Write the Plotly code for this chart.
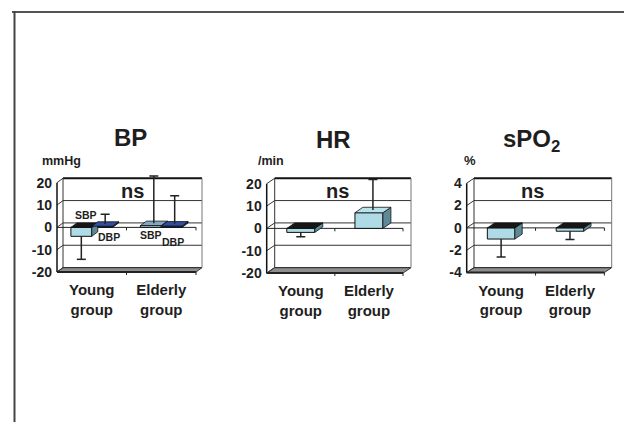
import plotly.graph_objects as go

W, H = 624, 425

# ---------------- data ----------------
categories = ["Young<br>group", "Elderly<br>group"]

bp_sbp = [-4.0, 0.8]
bp_sbp_err = [10.3, 21.2]
bp_dbp = [0.5, 0.6]
bp_dbp_err = [4.4, 12.6]

hr_vals = [-1.8, 7.0]
hr_err = [2.0, 13.7]

spo2_vals = [-1.0, -0.3]
spo2_err = [1.6, 0.75]

bp_ticks = [-20, -10, 0, 10, 20]
hr_ticks = [-20, -10, 0, 10, 20]
spo2_ticks = [-4, -2, 0, 2, 4]

# ---------------- styling / geometry ----------------
FONT = "Liberation Sans, Arial, sans-serif"
TXT = "#1e1e1e"
NEG_TOP = "#161616"
STY_SBP = dict(front="#aedbe6", top="#82a9c3", side="#5e8a97")
STY_HR = dict(front="#aedbe6", top="#b8e3ec", side="#5e8a97")
STY_DBP = dict(front="#2d4e9e", top="#2f4fa0", side="#1d3570")

panels = [
    dict(FL=57, FR=196, FT=184, FB=274, dx=6, dy=4.5, ymin=-20, ymax=20, ticks=bp_ticks),
    dict(FL=266.7, FR=403, FT=185, FB=275, dx=8, dy=5.5, ymin=-20, ymax=20, ticks=hr_ticks),
    dict(FL=466.7, FR=604.4, FT=184.5, FB=274.5, dx=7.3, dy=5, ymin=-4, ymax=4, ticks=spo2_ticks),
]

fig = go.Figure()
shapes = []
xcat = list(range(len(categories)))

def px2paper(x, y):
    return x / W, 1 - y / H

for i, p in enumerate(panels):
    suf = "" if i == 0 else str(i + 1)
    xa, ya = "x" + suf, "y" + suf
    kx = (p["FR"] - p["FL"]) / 2.0
    ky = (p["FB"] - p["FT"]) / (p["ymax"] - p["ymin"])
    p["kx"], p["ky"] = kx, ky
    padL, padR, padT, padB = 3, 3, 9, 5
    p["DX"] = p["dx"] / kx
    p["DY"] = p["dy"] / ky
    DX, DY = p["DX"], p["DY"]
    ymin, ymax = p["ymin"], p["ymax"]
    xr = [-0.5 - padL / kx, 1.5 + (p["dx"] + padR) / kx]
    yr = [ymin - padB / ky, ymax + (p["dy"] + padT) / ky]
    xdom = [(p["FL"] - padL) / W, (p["FR"] + p["dx"] + padR) / W]
    ydom = [1 - (p["FB"] + padB) / H, 1 - (p["FT"] - p["dy"] - padT) / H]
    fig.update_layout({
        "xaxis" + suf: dict(domain=xdom, range=xr, anchor=ya, tickvals=xcat, ticktext=categories,
                            showgrid=False, zeroline=False, showline=False, ticks="",
                            tickfont=dict(family=FONT, size=15, color=TXT, weight="bold"),
                            ticklabelstandoff=2, fixedrange=True),
        "yaxis" + suf: dict(domain=ydom, range=yr, anchor=xa, tickvals=p["ticks"],
                            ticktext=[str(t) for t in p["ticks"]],
                            showgrid=False, zeroline=False, showline=False, ticks="",
                            tickfont=dict(family=FONT, size=14, color=TXT, weight="bold"),
                            ticklabelstandoff=1, fixedrange=True),
    })
    base = dict(xref=xa, yref=ya, layer="below")
    # back wall
    shapes.append(dict(type="rect", x0=-0.5 + DX, x1=1.5 + DX, y0=ymin + DY, y1=ymax + DY,
                       fillcolor="white", line=dict(width=0), **base))
    # floor
    shapes.append(dict(type="path",
                       path=f"M{-0.5},{ymin} L{1.5},{ymin} L{1.5 + DX},{ymin + DY} L{-0.5 + DX},{ymin + DY} Z",
                       fillcolor="#8e8e8e", line=dict(color="#333", width=1), **base))
    shapes.append(dict(type="line", x0=-0.5, x1=1.5, y0=ymin, y1=ymin,
                       line=dict(color="#222", width=2), **base))
    # back gridlines + diagonal ticks
    for t in p["ticks"]:
        if t != ymax:
            shapes.append(dict(type="line", x0=-0.5 + DX, x1=1.5 + DX, y0=t + DY, y1=t + DY,
                               line=dict(color="#333", width=1), **base))
        shapes.append(dict(type="line", x0=-0.5, x1=-0.5 + DX, y0=t, y1=t + DY,
                           line=dict(color="#333", width=1), **base))
    # back wall edges
    shapes.append(dict(type="line", x0=-0.5 + DX, x1=1.5 + DX, y0=ymax + DY, y1=ymax + DY,
                       line=dict(color="#111", width=2), **base))
    shapes.append(dict(type="line", x0=-0.5 + DX, x1=-0.5 + DX, y0=ymin + DY, y1=ymax + DY,
                       line=dict(color="#333", width=1), **base))
    shapes.append(dict(type="line", x0=1.5 + DX, x1=1.5 + DX, y0=ymin + DY, y1=ymax + DY,
                       line=dict(color="#777", width=1), **base))
    # front axis
    shapes.append(dict(type="line", x0=-0.5, x1=-0.5, y0=ymin, y1=ymax,
                       line=dict(color="#111", width=1.5), **base))
    # zero category line with tick marks
    shapes.append(dict(type="line", x0=-0.5, x1=1.5, y0=0, y1=0,
                       line=dict(color="#222", width=1), **base))
    for tx in [0.5, 1.5]:
        shapes.append(dict(type="line", x0=tx, x1=tx, y0=0, y1=-3 / ky,
                           line=dict(color="#222", width=1), **base))
        shapes.append(dict(type="line", x0=tx, x1=tx, y0=ymin, y1=ymin - 3 / ky,
                           line=dict(color="#222", width=1), **base))


def add_boxes(pi, xcs, width, vals, errs, sty, name):
    p = panels[pi]
    suf = "" if pi == 0 else str(pi + 1)
    xa, ya = "x" + suf, "y" + suf
    DX, DY = p["DX"], p["DY"]
    fig.add_trace(go.Bar(x=xcs, y=vals, width=[width] * len(vals), base=0, name=name,
                         marker=dict(color=sty["front"], line=dict(color="#111", width=1)),
                         xaxis=xa, yaxis=ya, showlegend=False, hoverinfo="skip"))
    for xc, v in zip(xcs, vals):
        x0, x1 = xc - width / 2, xc + width / 2
        sx = [x1, x1, x1 + DX, x1 + DX, x1]
        sy = [0, v, v + DY, DY, 0]
        fig.add_trace(go.Scatter(x=sx, y=sy, mode="lines", fill="toself", fillcolor=sty["side"],
                                 line=dict(color="#111", width=0.8), xaxis=xa, yaxis=ya,
                                 showlegend=False, hoverinfo="skip"))
        yt = max(v, 0)
        tx = [x0, x1, x1 + DX, x0 + DX, x0]
        ty = [yt, yt, yt + DY, yt + DY, yt]
        fig.add_trace(go.Scatter(x=tx, y=ty, mode="lines", fill="toself",
                                 fillcolor=sty["top"] if v > 0 else NEG_TOP,
                                 line=dict(color="#111", width=0.8), xaxis=xa, yaxis=ya,
                                 showlegend=False, hoverinfo="skip"))
    # error bars (one-sided, away from zero)
    ex, ey = [], []
    wu = 4.5 / p["kx"]
    for xc, v, e in zip(xcs, vals, errs):
        if v > 0:
            ax_, ay_ = xc + DX / 2, v + DY / 2
            end = ay_ + e
        else:
            ax_, ay_ = xc, v
            end = v - e
        ex += [ax_, ax_, None, ax_ - wu, ax_ + wu, None]
        ey += [ay_, end, None, end, end, None]
    fig.add_trace(go.Scatter(x=ex, y=ey, mode="lines", line=dict(color="#222", width=1.5),
                             xaxis=xa, yaxis=ya, showlegend=False, hoverinfo="skip",
                             cliponaxis=False))


add_boxes(0, [c - 0.15 for c in xcat], 0.30, bp_sbp, bp_sbp_err, STY_SBP, "SBP")
add_boxes(0, [c + 0.15 for c in xcat], 0.30, bp_dbp, bp_dbp_err, STY_DBP, "DBP")
add_boxes(1, xcat, 0.41, hr_vals, hr_err, STY_HR, "HR")
add_boxes(2, xcat, 0.40, spo2_vals, spo2_err, STY_HR, "sPO2")

# figure border lines
shapes.append(dict(type="line", xref="paper", yref="paper", x0=12 / W, x1=1, y0=1 - 12 / H, y1=1 - 12 / H,
                   line=dict(color="#555", width=2)))
shapes.append(dict(type="line", xref="paper", yref="paper", x0=14.5 / W, x1=14.5 / W, y0=1 - 11 / H, y1=0,
                   line=dict(color="#444", width=2)))

annotations = []

def txt(s, x, y, size):
    px, py = px2paper(x, y)
    annotations.append(dict(text=s, x=px, y=py, xref="paper", yref="paper", showarrow=False,
                            xanchor="center", yanchor="middle",
                            font=dict(family=FONT, size=size, color=TXT, weight="bold")))

txt("BP", 130.5, 138.5, 24)
txt("HR", 333.3, 140, 24)
txt("sPO<sub>2</sub>", 531, 142, 24)
txt("mmHg", 61.5, 162, 12.5)
txt("/min", 271, 162, 12.5)
txt("%", 470, 162, 13)
txt("ns", 132, 192, 20)
txt("ns", 337, 192, 20)
txt("ns", 532.5, 192, 20)
txt("SBP", 86, 217, 10.5)
txt("DBP", 108.7, 238.3, 10.5)
txt("SBP", 151, 236.7, 10.5)
txt("DBP", 173, 244, 10.5)

fig.update_layout(width=W, height=H, autosize=False, margin=dict(l=0, r=0, t=0, b=0),
                  paper_bgcolor="white", plot_bgcolor="rgba(0,0,0,0)",
                  barmode="overlay", showlegend=False, shapes=shapes, annotations=annotations)

fig.write_html("out.html", config={"displayModeBar": False},
               post_script="document.body.style.margin='0';document.body.style.overflow='hidden';")
